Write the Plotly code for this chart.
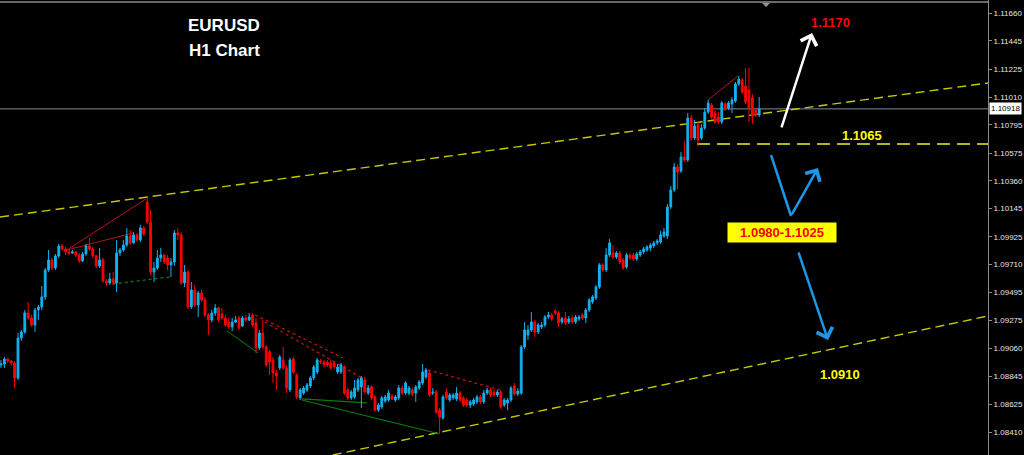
import plotly.graph_objects as go

# ---------------- data (EURUSD H1 candles) ----------------
bar_index = list(range(224))

open_ = [
    1.08931, 1.08938, 1.08977, 1.08962, 1.08946, 1.08830, 1.09140, 1.09187, 1.09334, 1.09295,
    1.09241, 1.09357, 1.09381, 1.09459, 1.09668, 1.09745, 1.09683, 1.09777, 1.09854, 1.09831,
    1.09808, 1.09800, 1.09808, 1.09784, 1.09738, 1.09792, 1.09854, 1.09831, 1.09777, 1.09699,
    1.09745, 1.09583, 1.09567, 1.09598, 1.09567, 1.09800, 1.09823, 1.09862, 1.09932, 1.09878,
    1.09940, 1.09901, 1.09994, 1.10195, 1.10040, 1.09652, 1.09683, 1.09761, 1.09784, 1.09761,
    1.09707, 1.09730, 1.09955, 1.09940, 1.09567, 1.09652, 1.09381, 1.09513, 1.09396, 1.09490,
    1.09435, 1.09319, 1.09280, 1.09334, 1.09373, 1.09326, 1.09295, 1.09264, 1.09226, 1.09264,
    1.09295, 1.09233, 1.09295, 1.09280, 1.09319, 1.09257, 1.09063, 1.09179, 1.09070, 1.09032,
    1.08969, 1.08869, 1.08907, 1.08969, 1.08907, 1.08737, 1.08977, 1.08853, 1.08675, 1.08713,
    1.08737, 1.08768, 1.08830, 1.08876, 1.08962, 1.08954, 1.08954, 1.08946, 1.08946, 1.08876,
    1.08876, 1.08915, 1.08737, 1.08675, 1.08682, 1.08737, 1.08760, 1.08814, 1.08713, 1.08760,
    1.08682, 1.08581, 1.08605, 1.08651, 1.08659, 1.08690, 1.08659, 1.08675, 1.08752, 1.08713,
    1.08713, 1.08737, 1.08713, 1.08752, 1.08791, 1.08838, 1.08869, 1.08713, 1.08721, 1.08581,
    1.08519, 1.08721, 1.08659, 1.08675, 1.08667, 1.08713, 1.08675, 1.08659, 1.08620, 1.08628,
    1.08644, 1.08682, 1.08644, 1.08713, 1.08737, 1.08721, 1.08698, 1.08721, 1.08620, 1.08636,
    1.08659, 1.08768, 1.08706, 1.08713, 1.09070, 1.09163, 1.09202, 1.09264, 1.09187, 1.09226,
    1.09241, 1.09303, 1.09319, 1.09350, 1.09334, 1.09264, 1.09295, 1.09264, 1.09295, 1.09264,
    1.09288, 1.09319, 1.09295, 1.09357, 1.09420, 1.09451, 1.09536, 1.09707, 1.09668, 1.09784,
    1.09800, 1.09769, 1.09800, 1.09745, 1.09691, 1.09784, 1.09784, 1.09753, 1.09784, 1.09808,
    1.09823, 1.09839, 1.09854, 1.09878, 1.09885, 1.09932, 1.09932, 1.10157, 1.10289, 1.10467,
    1.10436, 1.10545, 1.10521, 1.10847, 1.10692, 1.10793, 1.10692, 1.10770, 1.10894, 1.10948,
    1.10886, 1.10855, 1.10816, 1.10956, 1.10925, 1.10956, 1.10979, 1.11111, 1.11142, 1.11096,
    1.11065, 1.11003, 1.10909, 1.10871,
]

high_ = [
    1.08969, 1.08993, 1.08985, 1.08969, 1.08962, 1.09179, 1.09202, 1.09357, 1.09420, 1.09319,
    1.09373, 1.09396, 1.09544, 1.09683, 1.09823, 1.09761, 1.09792, 1.09870, 1.09870, 1.09847,
    1.09831, 1.09823, 1.09815, 1.09800, 1.09808, 1.09870, 1.09916, 1.09847, 1.09784, 1.09839,
    1.09761, 1.09598, 1.09645, 1.09652, 1.09901, 1.09839, 1.09901, 1.09994, 1.09978, 1.09963,
    1.09955, 1.10017, 1.10009, 1.10227, 1.10133, 1.09730, 1.09823, 1.09839, 1.09792, 1.09784,
    1.09761, 1.09978, 1.09994, 1.09963, 1.09707, 1.09668, 1.09575, 1.09552, 1.09505, 1.09513,
    1.09459, 1.09334, 1.09357, 1.09404, 1.09381, 1.09373, 1.09319, 1.09295, 1.09295, 1.09311,
    1.09311, 1.09311, 1.09319, 1.09334, 1.09334, 1.09295, 1.09202, 1.09280, 1.09086, 1.09047,
    1.08993, 1.08892, 1.09008, 1.09070, 1.08931, 1.08985, 1.08993, 1.08869, 1.08752, 1.08768,
    1.08791, 1.08845, 1.08931, 1.08985, 1.08977, 1.08969, 1.08969, 1.08969, 1.08962, 1.08938,
    1.08946, 1.08931, 1.08752, 1.08737, 1.08814, 1.08830, 1.08845, 1.08838, 1.08775, 1.08775,
    1.08698, 1.08636, 1.08690, 1.08698, 1.08737, 1.08706, 1.08698, 1.08775, 1.08768, 1.08806,
    1.08768, 1.08752, 1.08775, 1.08814, 1.08938, 1.08907, 1.08892, 1.08752, 1.08737, 1.08597,
    1.08698, 1.08752, 1.08713, 1.08713, 1.08760, 1.08729, 1.08690, 1.08675, 1.08659, 1.08675,
    1.08698, 1.08698, 1.08737, 1.08752, 1.08752, 1.08737, 1.08737, 1.08737, 1.08675, 1.08675,
    1.08768, 1.08791, 1.08752, 1.09086, 1.09264, 1.09241, 1.09342, 1.09280, 1.09257, 1.09264,
    1.09319, 1.09342, 1.09334, 1.09365, 1.09350, 1.09303, 1.09342, 1.09311, 1.09319, 1.09319,
    1.09319, 1.09334, 1.09373, 1.09451, 1.09474, 1.09552, 1.09722, 1.09722, 1.09839, 1.09909,
    1.09862, 1.09815, 1.09815, 1.09761, 1.09800, 1.09800, 1.09800, 1.09808, 1.09823, 1.09847,
    1.09862, 1.09878, 1.09893, 1.09909, 1.09971, 1.09994, 1.10180, 1.10320, 1.10498, 1.10490,
    1.10584, 1.10669, 1.10886, 1.10871, 1.10832, 1.10816, 1.10801, 1.10925, 1.10987, 1.10964,
    1.10909, 1.10894, 1.10979, 1.10971, 1.10979, 1.11010, 1.11127, 1.11173, 1.11158, 1.11235,
    1.11235, 1.11034, 1.10925, 1.11010,
]

low_ = [
    1.08907, 1.08907, 1.08946, 1.08923, 1.08752, 1.08814, 1.09117, 1.09171, 1.09280, 1.09226,
    1.09187, 1.09280, 1.09357, 1.09435, 1.09652, 1.09668, 1.09668, 1.09761, 1.09815, 1.09784,
    1.09784, 1.09792, 1.09769, 1.09722, 1.09730, 1.09777, 1.09815, 1.09761, 1.09683, 1.09683,
    1.09567, 1.09544, 1.09552, 1.09552, 1.09497, 1.09777, 1.09808, 1.09847, 1.09862, 1.09870,
    1.09885, 1.09885, 1.09932, 1.10025, 1.09629, 1.09575, 1.09668, 1.09730, 1.09714, 1.09668,
    1.09614, 1.09699, 1.09901, 1.09552, 1.09536, 1.09365, 1.09365, 1.09381, 1.09303, 1.09420,
    1.09303, 1.09163, 1.09264, 1.09311, 1.09264, 1.09280, 1.09226, 1.09210, 1.09194, 1.09257,
    1.09202, 1.09226, 1.09264, 1.09272, 1.09226, 1.09024, 1.09047, 1.09055, 1.08915, 1.08853,
    1.08791, 1.08737, 1.08892, 1.08892, 1.08713, 1.08721, 1.08861, 1.08667, 1.08659, 1.08698,
    1.08721, 1.08752, 1.08814, 1.08861, 1.08938, 1.08915, 1.08915, 1.08892, 1.08900, 1.08861,
    1.08861, 1.08698, 1.08659, 1.08659, 1.08667, 1.08721, 1.08597, 1.08706, 1.08698, 1.08659,
    1.08566, 1.08566, 1.08589, 1.08636, 1.08644, 1.08659, 1.08644, 1.08659, 1.08698, 1.08698,
    1.08698, 1.08690, 1.08644, 1.08737, 1.08775, 1.08822, 1.08682, 1.08698, 1.08550, 1.08403,
    1.08504, 1.08659, 1.08644, 1.08659, 1.08651, 1.08644, 1.08605, 1.08605, 1.08597, 1.08613,
    1.08628, 1.08628, 1.08628, 1.08698, 1.08682, 1.08682, 1.08682, 1.08589, 1.08605, 1.08581,
    1.08644, 1.08690, 1.08690, 1.08698, 1.09055, 1.09125, 1.09187, 1.09148, 1.09171, 1.09210,
    1.09226, 1.09288, 1.09272, 1.09319, 1.09226, 1.09249, 1.09241, 1.09249, 1.09249, 1.09249,
    1.09272, 1.09280, 1.09257, 1.09342, 1.09404, 1.09435, 1.09521, 1.09652, 1.09652, 1.09769,
    1.09753, 1.09753, 1.09714, 1.09668, 1.09676, 1.09745, 1.09738, 1.09738, 1.09769, 1.09792,
    1.09808, 1.09815, 1.09839, 1.09862, 1.09870, 1.09916, 1.09909, 1.10141, 1.10273, 1.10296,
    1.10421, 1.10506, 1.10506, 1.10669, 1.10677, 1.10630, 1.10677, 1.10754, 1.10878, 1.10840,
    1.10801, 1.10801, 1.10801, 1.10902, 1.10909, 1.10886, 1.10964, 1.11096, 1.11034, 1.10956,
    1.10816, 1.10801, 1.10855, 1.10855,
]

close_ = [
    1.08938, 1.08977, 1.08962, 1.08946, 1.08830, 1.09140, 1.09187, 1.09334, 1.09295, 1.09241,
    1.09357, 1.09381, 1.09459, 1.09668, 1.09745, 1.09683, 1.09777, 1.09854, 1.09831, 1.09808,
    1.09800, 1.09808, 1.09784, 1.09738, 1.09792, 1.09854, 1.09831, 1.09777, 1.09699, 1.09745,
    1.09583, 1.09567, 1.09598, 1.09567, 1.09800, 1.09823, 1.09862, 1.09932, 1.09878, 1.09940,
    1.09901, 1.09994, 1.09947, 1.10040, 1.09652, 1.09683, 1.09761, 1.09784, 1.09730, 1.09707,
    1.09730, 1.09955, 1.09940, 1.09567, 1.09652, 1.09381, 1.09513, 1.09396, 1.09490, 1.09435,
    1.09319, 1.09280, 1.09334, 1.09373, 1.09280, 1.09295, 1.09241, 1.09226, 1.09264, 1.09280,
    1.09218, 1.09295, 1.09280, 1.09303, 1.09241, 1.09063, 1.09179, 1.09070, 1.08931, 1.08954,
    1.08869, 1.08845, 1.08993, 1.08907, 1.08752, 1.08969, 1.08876, 1.08682, 1.08737, 1.08752,
    1.08775, 1.08830, 1.08915, 1.08969, 1.08954, 1.08931, 1.08931, 1.08907, 1.08915, 1.08915,
    1.08931, 1.08713, 1.08675, 1.08721, 1.08752, 1.08814, 1.08830, 1.08721, 1.08752, 1.08675,
    1.08581, 1.08620, 1.08675, 1.08682, 1.08713, 1.08667, 1.08682, 1.08752, 1.08713, 1.08791,
    1.08752, 1.08706, 1.08760, 1.08799, 1.08876, 1.08892, 1.08698, 1.08721, 1.08566, 1.08527,
    1.08682, 1.08675, 1.08698, 1.08698, 1.08713, 1.08659, 1.08620, 1.08620, 1.08644, 1.08659,
    1.08682, 1.08644, 1.08713, 1.08737, 1.08698, 1.08698, 1.08721, 1.08605, 1.08659, 1.08659,
    1.08752, 1.08706, 1.08729, 1.09070, 1.09202, 1.09202, 1.09264, 1.09187, 1.09241, 1.09241,
    1.09303, 1.09319, 1.09288, 1.09334, 1.09257, 1.09288, 1.09257, 1.09288, 1.09264, 1.09303,
    1.09303, 1.09295, 1.09357, 1.09435, 1.09459, 1.09536, 1.09707, 1.09668, 1.09784, 1.09878,
    1.09769, 1.09800, 1.09730, 1.09683, 1.09784, 1.09761, 1.09753, 1.09792, 1.09808, 1.09831,
    1.09847, 1.09862, 1.09878, 1.09893, 1.09940, 1.09963, 1.10157, 1.10289, 1.10467, 1.10428,
    1.10545, 1.10521, 1.10847, 1.10692, 1.10785, 1.10677, 1.10770, 1.10894, 1.10964, 1.10855,
    1.10816, 1.10816, 1.10964, 1.10917, 1.10964, 1.10987, 1.11111, 1.11150, 1.11049, 1.10971,
    1.10925, 1.10863, 1.10871, 1.10918,
]

tick_values = [1.11660, 1.11445, 1.11225, 1.11010, 1.10795, 1.10575, 1.10360, 1.10145,
               1.09925, 1.09710, 1.09495, 1.09275, 1.09060, 1.08845, 1.08625, 1.08410]
tick_labels = ["1.11660", "1.11445", "1.11225", "1.11010", "1.10795", "1.10575", "1.10360", "1.10145",
               "1.09925", "1.09710", "1.09495", "1.09275", "1.09060", "1.08845", "1.08625", "1.08410"]

last_price = 1.10918
support_level = 1.10645

# ---------------- figure ----------------
BLUE = "#12B2F2"
RED = "#FF0000"

fig = go.Figure()
fig.add_trace(go.Candlestick(
    x=bar_index, open=open_, high=high_, low=low_, close=close_,
    increasing=dict(line=dict(color=BLUE, width=1), fillcolor=BLUE),
    decreasing=dict(line=dict(color=RED, width=1), fillcolor=RED),
    whiskerwidth=0, hoverinfo="skip", showlegend=False,
))

X0, X1 = -0.29, 290.3
Y0, Y1 = 1.08232, 1.11763

shapes = []

# current price line
shapes.append(dict(type="line", xref="paper", yref="y", x0=0, x1=1, y0=last_price, y1=last_price,
                   line=dict(color="#7D8A98", width=1), layer="below"))

# channel lines (yellow dashed)
shapes.append(dict(type="line", xref="x", yref="y", x0=-0.29, y0=1.10079, x1=290.3, y1=1.11119,
                   line=dict(color="#C8C800", width=1.4, dash="9px,5px"), layer="below"))
shapes.append(dict(type="line", xref="x", yref="y", x0=97.6, y0=1.08232, x1=290.3, y1=1.09311,
                   line=dict(color="#C8C800", width=1.4, dash="9px,5px"), layer="below"))
# support 1.1065 dashed line
shapes.append(dict(type="line", xref="x", yref="y", x0=204.7, y0=support_level, x1=290.3, y1=support_level,
                   line=dict(color="#B4B41E", width=2, dash="13px,7px"), layer="below"))

# pattern lines
pattern_lines = [
    (19.4, 1.09823, 42.6, 1.10219, "#B41414", 1, "solid"),
    (19.4, 1.09823, 38.8, 1.09955, "#B41414", 1, "solid"),
    (32.9, 1.09559, 49.7, 1.09614, "#0E7A0E", 1.3, "3px,3px"),
    (74.7, 1.09319, 100.6, 1.08985, "#B41414", 1.3, "3px,3px"),
    (77.6, 1.09264, 106.2, 1.08830, "#B41414", 1.3, "3px,3px"),
    (125.6, 1.08892, 146.8, 1.08737, "#B41414", 1.3, "3px,3px"),
    (66.5, 1.09194, 75.6, 1.09024, "#0E7A0E", 1, "solid"),
    (88.5, 1.08659, 129.1, 1.08395, "#0E7A0E", 1.2, "solid"),
    (88.5, 1.08667, 107.6, 1.08636, "#0E7A0E", 1.2, "solid"),
    (207.9, 1.10987, 216.8, 1.11173, "#B41414", 1, "solid"),
]
for x0, y0, x1, y1, col, w, d in pattern_lines:
    shapes.append(dict(type="line", xref="x", yref="y", x0=x0, y0=y0, x1=x1, y1=y1,
                       line=dict(color=col, width=w, dash=d), layer="below"))

# top border and shift marker
shapes.append(dict(type="line", xref="paper", yref="paper", x0=0, x1=1, y0=0.9956, y1=0.9956,
                   line=dict(color="#8C8C8C", width=1.5)))
shapes.append(dict(type="path", xref="paper", yref="paper",
                   path="M 0.7713 0.9934 L 0.7794 0.9934 L 0.7753 0.9846 Z",
                   fillcolor="#8A96A3", line=dict(width=0)))

# blue V first leg (no head)
shapes.append(dict(type="line", xref="paper", yref="paper", x0=0.7804, y0=0.6593, x1=0.8006, y1=0.5253,
                   line=dict(color="#1E96E6", width=2.5)))

fig.update_layout(shapes=shapes)

FONT = "Liberation Sans, Arial, sans-serif"
annotations = [
    dict(text="<b>EURUSD</b>", x=0.2267, y=0.9429, font=dict(color="white", size=17, family=FONT)),
    dict(text="<b>H1 Chart</b>", x=0.2277, y=0.8901, font=dict(color="white", size=17, family=FONT)),
    dict(text="<b>1.1170</b>", x=0.8401, y=0.9516, font=dict(color="#FF0000", size=13, family=FONT)),
    dict(text="<b>1.1065</b>", x=0.8725, y=0.7011, font=dict(color="#FFFF00", size=13, family=FONT)),
    dict(text="<b>1.0910</b>", x=0.8502, y=0.1780, font=dict(color="#FFFF00", size=13, family=FONT)),
    dict(text="<b>1.0980-1.1025</b>", x=0.7915, y=0.4901, bgcolor="#FFFF00", borderpad=2, width=104,
         font=dict(color="#FF0000", size=13, family=FONT)),
]
for a in annotations:
    a.update(xref="paper", yref="paper", showarrow=False, xanchor="center", yanchor="middle")
    fig.add_annotation(**a)

# arrows
arrow_defs = [
    (0.8219, 0.9275, -31, 96, "white"),
    (0.8279, 0.6308, -27, 48, "#1E96E6"),
    (0.8381, 0.2527, -30, -89, "#1E96E6"),
]
for x, y, ax, ay, col in arrow_defs:
    fig.add_annotation(x=x, y=y, xref="paper", yref="paper", ax=ax, ay=ay, axref="pixel", ayref="pixel",
                       text="", showarrow=True, arrowhead=4, arrowsize=1.3, arrowwidth=2.5,
                       arrowcolor=col)

# current price label
fig.add_annotation(text="1.10918", x=1, xref="paper", y=last_price, yref="y", xanchor="left",
                   yanchor="middle", xshift=1, showarrow=False, bgcolor="white", borderpad=1,
                   font=dict(color="black", size=8, family=FONT))

fig.update_layout(
    width=1024, height=455,
    margin=dict(l=0, r=36, t=0, b=0, autoexpand=False),
    paper_bgcolor="black", plot_bgcolor="black",
    showlegend=False,
    boxgap=0.25,
    xaxis=dict(range=[X0, X1], showgrid=False, zeroline=False, showticklabels=False, ticks="",
               showline=False, rangeslider=dict(visible=False), fixedrange=True),
    yaxis=dict(range=[Y0, Y1], side="right", showgrid=False, zeroline=False, automargin=False,
               tickmode="array", tickvals=tick_values, ticktext=tick_labels,
               showline=True, linecolor="#8C8C8C", linewidth=1,
               ticks="outside", ticklen=3, tickcolor="#8C8C8C",
               tickfont=dict(color="#E6E6E6", size=8, family=FONT), fixedrange=True),
)

fig.write_html(
    "out.html",
    config={"displayModeBar": False},
    post_script="document.body.style.margin='0';document.body.style.background='black';"
                "document.body.style.overflow='hidden';",
)
